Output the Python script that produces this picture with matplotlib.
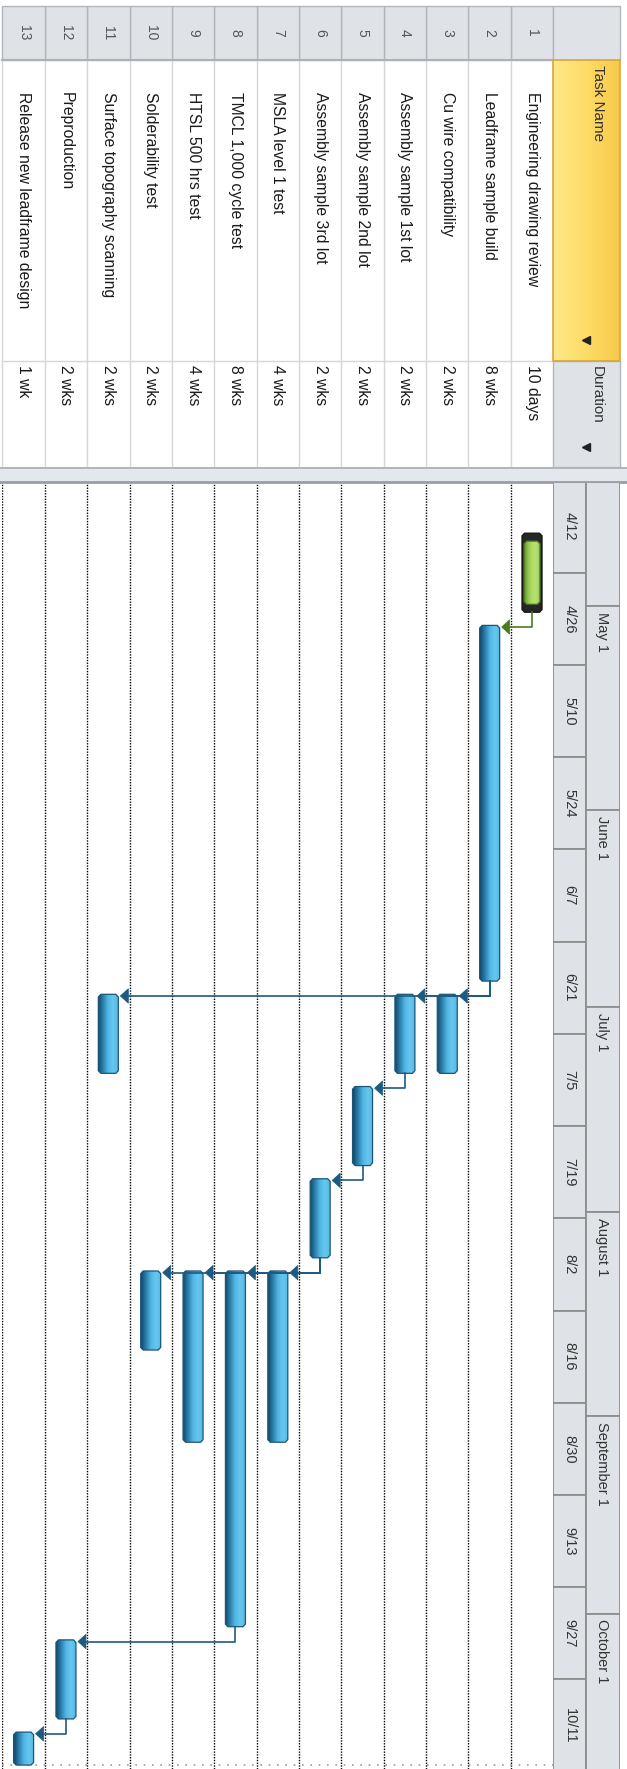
import numpy as np
import matplotlib.pyplot as plt
import matplotlib.dates as mdates
from matplotlib.colors import LinearSegmentedColormap
from matplotlib.patches import Polygon, Rectangle

plt.rcParams['font.family'] = ['Liberation Sans', 'DejaVu Sans']

# task table
task_names = ["Engineering drawing review", "Leadframe sample build", "Cu wire compatibility",
              "Assembly sample 1st lot", "Assembly sample 2nd lot", "Assembly sample 3rd lot",
              "MSLA level 1 test", "TMCL 1,000 cycle test", "HTSL 500 hrs test",
              "Solderability test", "Surface topography scanning", "Preproduction",
              "Release new leadframe design"]
durations = ["10 days", "8 wks", "2 wks", "2 wks", "2 wks", "2 wks", "4 wks",
             "8 wks", "4 wks", "2 wks", "2 wks", "2 wks", "1 wk"]
starts = ["2015-04-20", "2015-05-04", "2015-06-29", "2015-06-29", "2015-07-13", "2015-07-27",
          "2015-08-10", "2015-08-10", "2015-08-10", "2015-08-10", "2015-06-29", "2015-10-05",
          "2015-10-19"]
finishes = ["2015-05-01", "2015-06-26", "2015-07-10", "2015-07-10", "2015-07-24", "2015-08-07",
            "2015-09-04", "2015-10-02", "2015-09-04", "2015-08-21", "2015-07-10", "2015-10-16",
            "2015-10-23"]
predecessors = [None, 1, 2, 2, 4, 5, 6, 6, 6, 6, 2, 8, 12]

# timescale
week_ticks = ["2015-04-12", "2015-04-26", "2015-05-10", "2015-05-24", "2015-06-07",
              "2015-06-21", "2015-07-05", "2015-07-19", "2015-08-02", "2015-08-16",
              "2015-08-30", "2015-09-13", "2015-09-27", "2015-10-11"]
month_ticks = ["2015-04-01", "2015-05-01", "2015-06-01", "2015-07-01", "2015-08-01",
               "2015-09-01", "2015-10-01", "2015-11-01"]

n = len(task_names)
s = mdates.datestr2num(starts)
f = mdates.datestr2num(finishes) + 1.0   # bars run to the end of the finish day
weeks = mdates.datestr2num(week_ticks)
months = mdates.datestr2num(month_ticks)
view_top = mdates.datestr2num("2015-04-12") + 0.43
view_bottom = mdates.datestr2num("2015-04-12") + 195.6

# page layout in pixels
W, H = 627, 1769
X0, X1 = 2.4, 553.2          # row band
HX1 = 620.0                  # right edge of header column
pitch = (X1 - X0) / n
CHART_TOP = 483.3

fig = plt.figure(figsize=(W / 100, H / 100), dpi=100)
bg = fig.add_axes([0, 0, 1, 1])
bg.set_xlim(0, W)
bg.set_ylim(H, 0)
bg.axis('off')

gray_cell = '#dfe3e8'
gray_edge = '#b2b6bc'
txt = '#1a1a1a'

def row_center(r):
    return X1 - (r - 0.5) * pitch

# ---- table part ----
for r in range(1, n + 1):
    x = X1 - r * pitch
    bg.add_patch(Rectangle((x, 6), pitch, 54, fc=gray_cell, ec=gray_edge, lw=1))
    bg.text(row_center(r), 33, str(r), rotation=-90, ha='center', va='center',
            fontsize=10, color='#555555')
    bg.plot([x, x], [60, 467], color='#d6d6d6', lw=1)
    bg.text(row_center(r), 92, task_names[r - 1], rotation=-90, rotation_mode='anchor',
            ha='left', va='center', fontsize=11.3, color=txt)
    bg.text(row_center(r), 365, durations[r - 1], rotation=-90, rotation_mode='anchor',
            ha='left', va='center', fontsize=11.3, color=txt)
bg.plot([X0, X1], [60, 60], color='#aeb2b8', lw=1.5)
bg.plot([X0, X1], [361, 361], color='#d6d6d6', lw=1)

# column headers
bg.add_patch(Rectangle((X1, 6), HX1 - X1, 54, fc=gray_cell, ec=gray_edge, lw=1))
yellow = LinearSegmentedColormap.from_list('hdr', ['#ffe88a', '#fddc66', '#f8c94a'])
bg.imshow(np.linspace(0, 1, 64)[None, :], cmap=yellow, extent=(X1, HX1, 361, 60),
          aspect='auto', zorder=1)
bg.add_patch(Rectangle((X1, 60), HX1 - X1, 301, fc='none', ec='#dba43a', lw=1.2, zorder=2))
bg.text(598, 65, "Task Name", rotation=-90, rotation_mode='anchor', ha='left',
        va='center', fontsize=11, color='#333333', zorder=3)
bg.add_patch(Rectangle((X1, 361), HX1 - X1, 106, fc=gray_cell, ec=gray_edge, lw=1))
bg.text(597, 366, "Duration", rotation=-90, rotation_mode='anchor', ha='left',
        va='center', fontsize=11, color='#333333', zorder=3)
bg.plot([586, 586], [340, 447], ls='none', marker='<', ms=6, color='#222222', zorder=3)

# splitter between table and chart
bg.add_patch(Rectangle((0, 467), W, 16, fc='#e4e7eb', ec='none'))
bg.plot([0, W], [468, 468], color='#a9adb2', lw=1.2)
bg.plot([0, W], [481.5, 481.5], color='#9a9ea4', lw=2)
bg.set_xlim(0, W)
bg.set_ylim(H, 0)

# ---- gantt chart ----
ax = fig.add_axes([X0 / W, 0, (X1 - X0) / W, (H - CHART_TOP) / H])
ax.axis('off')
ts = fig.add_axes([X1 / W, 0, (HX1 - X1) / W, (H - CHART_TOP) / H], sharey=ax)
ts.axis('off')

for k in range(1, n + 1):
    ax.axvline(k, color='#000000', lw=1.0, ls=(0, (1, 1)), zorder=1)
ax.axhline(f.max(), color='#9a9a9a', lw=1.2, ls=(0, (1, 4)), zorder=1)

blue = LinearSegmentedColormap.from_list(
    'bar', ['#15496a', '#2a80ad', '#52b5e3', '#66c7f0', '#5ab8e4'])
green = LinearSegmentedColormap.from_list(
    'crit', ['#5f8f2a', '#94c44f', '#aede6a', '#b5e070', '#9ccb57'])
grad = np.linspace(0, 1, 64)[None, :]

hw = 10.0 / pitch
dx = 2.5 / pitch
dy = 0.4

def bar_outline(c, y0, y1, half, cx, cy):
    return [(c - half + cx, y0), (c + half - cx, y0), (c + half, y0 + cy),
            (c + half, y1 - cy), (c + half - cx, y1), (c - half + cx, y1),
            (c - half, y1 - cy), (c - half, y0 + cy)]

def gradient_bar(c, y0, y1, half, cmap, edge, z):
    patch = Polygon(bar_outline(c, y0, y1, half, dx, dy), closed=True, fc='none',
                    ec=edge, lw=0.9, zorder=z + 1)
    ax.add_patch(patch)
    im = ax.imshow(grad, cmap=cmap, extent=(c + half, c - half, y1, y0),
                   aspect='auto', interpolation='bilinear', zorder=z)
    im.set_clip_path(patch)

for i in range(n):
    c = i + 0.5
    if i == 0:
        ax.add_patch(Polygon(bar_outline(c, s[i], f[i], hw, dx, dy), closed=True,
                             fc='#262626', ec='#111111', lw=0.9, zorder=3))
        gradient_bar(c, s[i] + 1.2, f[i] - 1.2, 8.0 / pitch, green, '#4a7020', 4)
    else:
        gradient_bar(c, s[i], f[i], hw, blue, '#1b5676', 3)

# finish-to-start links
aw = 8.0 / pitch
ah = 1.1
for i, p in enumerate(predecessors):
    if p is None:
        continue
    j = p - 1
    col = '#4d7a1f' if j == 0 else '#1c5b7f'
    px = j + 0.5
    ty = s[i] + 0.25
    tip = i + 0.5 - hw - 2.0 / pitch
    ax.plot([px, px, tip - aw], [f[j], ty, ty], color=col, lw=1.2,
            solid_joinstyle='round', zorder=5)
    ax.add_patch(Polygon([(tip, ty), (tip - aw, ty - ah), (tip - aw, ty + ah)],
                         closed=True, fc=col, ec=col, lw=0.5, zorder=6))

# timescale header
split = (585.6 - X1) / (HX1 - X1)
for d in weeks:
    ts.add_patch(Rectangle((0, d), split, 14, fc=gray_cell, ec='#8e8e8e', lw=1.3))
    dt = mdates.num2date(d)
    ts.text(split / 2, d + 7, f"{dt.month}/{dt.day}", rotation=-90, ha='center',
            va='center', fontsize=10.5, color='#333333')
for a, b in zip(months[:-1], months[1:]):
    ts.add_patch(Rectangle((split, a), 1 - split, b - a, fc=gray_cell, ec='#8e8e8e', lw=1.3))
    if a > view_top:
        dt = mdates.num2date(a)
        ts.text(0.726, a + 0.9, f"{dt:%B} {dt.day}", rotation=-90, rotation_mode='anchor',
                ha='left', va='center', fontsize=10.5, color='#333333')
ts.set_xlim(0, 1)

ax.set_xlim(n, 0)
ax.set_ylim(view_bottom, view_top)

fig.savefig('out.png', dpi=100)
